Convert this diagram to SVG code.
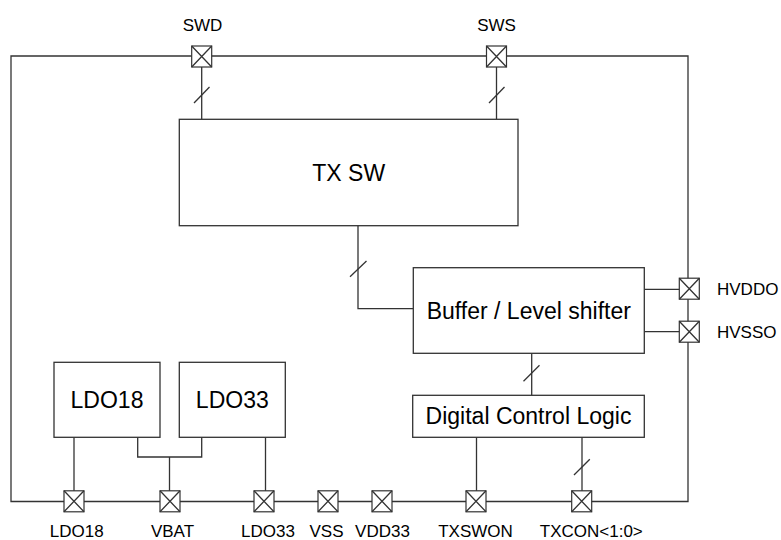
<svg xmlns="http://www.w3.org/2000/svg" width="781" height="540" viewBox="0 0 781 540">
<defs>
<style>
.ln{fill:none;stroke:#333;stroke-width:1.3}
.bx{fill:#fff;stroke:#333;stroke-width:1.3}
.pad{fill:#fff;stroke:#333;stroke-width:1.2}
.big{font-family:"Liberation Sans",Arial,sans-serif;font-size:23px;fill:#000;text-anchor:middle}
.lbl{font-family:"Liberation Sans",Arial,sans-serif;font-size:17px;fill:#000;text-anchor:middle}
.lft{text-anchor:start}
</style>
<g id="padsym"><rect class="pad" x="-10" y="-10.5" width="20" height="21"/><path class="ln" d="M-10,-10.5 L10,10.5 M10,-10.5 L-10,10.5" stroke-width="1"/></g>
</defs>
<rect width="781" height="540" fill="#fff"/>
<g id="connectors">
<path class="ln" d="M11,56 H688 V501.5 H11 Z"/>
<path class="ln" d="M201.7,56 V119.3"/>
<path class="ln" d="M194,103 L209.5,87"/>
<path class="ln" d="M496.5,56 V119.3"/>
<path class="ln" d="M489,103 L504.5,87"/>
<path class="ln" d="M358,225.7 V308.7 H413.3"/>
<path class="ln" d="M350,276.7 L366.5,261"/>
<path class="ln" d="M644.3,289.3 H688"/>
<path class="ln" d="M644.3,331.7 H688"/>
<path class="ln" d="M531.7,353.3 V395.3"/>
<path class="ln" d="M523.5,381.3 L539.5,365.3"/>
<path class="ln" d="M476.5,437.3 V501"/>
<path class="ln" d="M582,437.3 V501"/>
<path class="ln" d="M574,475 L589.8,459.3"/>
<path class="ln" d="M74,437.3 V501"/>
<path class="ln" d="M137.7,437.3 V457 H201.7 V437.3"/>
<path class="ln" d="M169.5,457 V501"/>
<path class="ln" d="M265.5,437.3 V501"/>
</g>
<g id="txsw"><rect class="bx" x="179.3" y="119.3" width="338.7" height="106.4"/><text class="big" x="348.7" y="180.5">TX SW</text></g>
<g id="buffer"><rect class="bx" x="413.3" y="267.7" width="231" height="85.6"/><text class="big" x="528.8" y="318.5">Buffer / Level shifter</text></g>
<g id="dcl"><rect class="bx" x="412.7" y="395.3" width="231.6" height="42"/><text class="big" x="528.5" y="424">Digital Control Logic</text></g>
<g id="ldo18"><rect class="bx" x="54" y="362.3" width="106" height="75"/><text class="big" x="107" y="408">LDO18</text></g>
<g id="ldo33"><rect class="bx" x="179.3" y="362.3" width="106" height="75"/><text class="big" x="232.3" y="408">LDO33</text></g>
<g id="pad-swd"><use href="#padsym" x="201.7" y="56.5"/><text class="lbl" x="202.5" y="30.7">SWD</text></g>
<g id="pad-sws"><use href="#padsym" x="496.5" y="56.5"/><text class="lbl" x="496.5" y="30.7">SWS</text></g>
<g id="pad-hvddo"><use href="#padsym" x="689.3" y="288.7"/><text class="lbl lft" x="717" y="295">HVDDO</text></g>
<g id="pad-hvsso"><use href="#padsym" x="689.3" y="331.7"/><text class="lbl lft" x="717" y="337.5">HVSSO</text></g>
<g id="pad-ldo18"><use href="#padsym" x="74" y="501.3"/><text class="lbl" x="76.7" y="536.5">LDO18</text></g>
<g id="pad-vbat"><use href="#padsym" x="170" y="501.3"/><text class="lbl" x="172.5" y="536.5">VBAT</text></g>
<g id="pad-ldo33"><use href="#padsym" x="264" y="501.3"/><text class="lbl" x="268" y="536.5">LDO33</text></g>
<g id="pad-vss"><use href="#padsym" x="328" y="501.3"/><text class="lbl" x="326.5" y="536.5">VSS</text></g>
<g id="pad-vdd33"><use href="#padsym" x="382" y="501.3"/><text class="lbl" x="382.5" y="536.5">VDD33</text></g>
<g id="pad-txswon"><use href="#padsym" x="476" y="501.3"/><text class="lbl" x="475.5" y="536.5">TXSWON</text></g>
<g id="pad-txcon"><use href="#padsym" x="581.7" y="501.3"/><text class="lbl" x="591.3" y="536.5">TXCON&lt;1:0&gt;</text></g>
</svg>
